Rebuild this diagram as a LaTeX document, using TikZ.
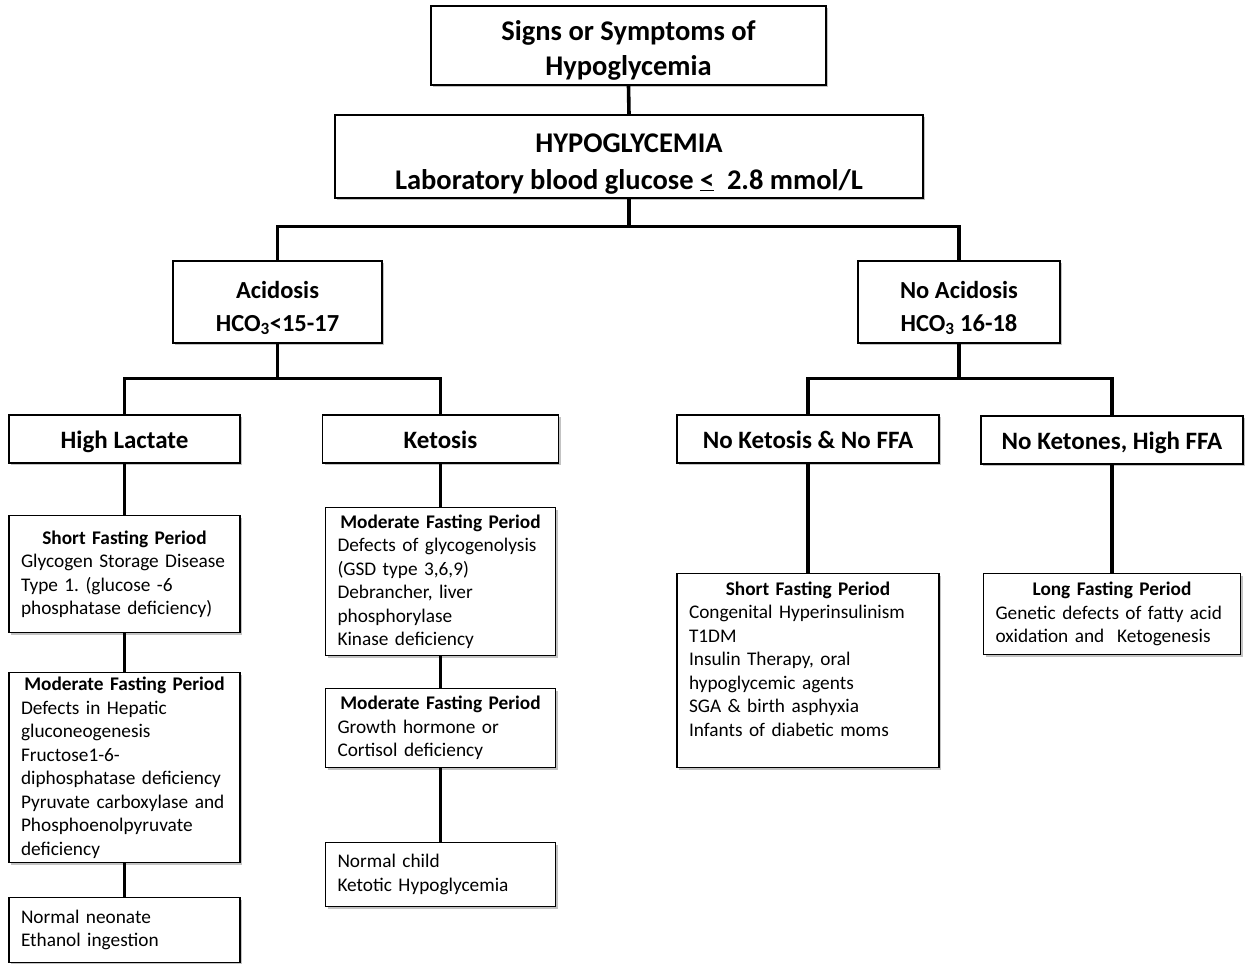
\documentclass[tikz,border=0pt]{standalone}
\usepackage{fontspec}
\setmainfont{Carlito}
\usetikzlibrary{positioning, shadows}
\usepackage{xcolor}
\definecolor{chartLine}{HTML}{000000}
\definecolor{chartShadow}{HTML}{7A7A7A}
\newcommand{\boxhead}[1]{\makebox[\hsize]{\bfseries #1}\\}
\frenchspacing
\tikzset{
    boxbase/.style={rectangle, draw=chartLine, fill=white, line width=1.3pt, drop shadow={shadow xshift=2pt, shadow yshift=-2pt, fill=chartShadow, opacity=0.45}},
    topbox/.style={boxbase, align=center, minimum width=395pt, minimum height=79pt, text height=62pt, text depth=3pt, font=\fontsize{28.5}{35}\selectfont\bfseries},
    hypobox/.style={boxbase, align=center, minimum width=588pt, minimum height=83pt, text height=68pt, text depth=3pt, font=\fontsize{28.5}{37}\selectfont\bfseries},
    branchbox/.style={boxbase, align=center, minimum height=82pt, text height=61pt, text depth=3pt, font=\fontsize{24.5}{33}\selectfont\bfseries},
    titlebox/.style={boxbase, align=center, minimum height=48pt, text height=20pt, text depth=2pt, font=\fontsize{25}{30}\selectfont\bfseries},
    detailbox/.style={boxbase, anchor=north, align=left, inner xsep=12pt, inner ysep=3pt, font=\fontsize{19.3}{23.5}\selectfont},
    link/.style={draw=chartLine, line width=3.6pt},
}
\begin{document}
\begin{tikzpicture}[x=1pt, y=-1pt]
    \useasboundingbox (0,0) rectangle (1251,964);

    % top of the tree
    \node[topbox] (signs) at (628.5,45.5) {Signs or Symptoms of\\Hypoglycemia};
    \node[hypobox] (hypo) at (629,156.5) {HYPOGLYCEMIA\\Laboratory blood glucose \underline{<}~ 2.8 mmol/L};

    % acidosis or not
    \node[branchbox, minimum width=209pt] (acid) at (277.5,302) {Acidosis\\HCO\textsubscript{3}<15-17};
    \node[branchbox, minimum width=202pt] (noacid) at (959,302) {No Acidosis\\HCO\textsubscript{3} 16-18};

    \node[titlebox, minimum width=231pt] (lact) at (124.5,439) {High Lactate};
    \node[titlebox, minimum width=236pt] (ketosis) at (440.5,439) {Ketosis};
    \node[titlebox, minimum width=262pt] (noket) at (808,439) {No Ketosis \& No FFA};
    \node[titlebox, minimum width=262pt] (noketones) at (1112,440) {No Ketones, High FFA};

    % high lactate column
    \node[detailbox, text width=207pt, minimum height=117pt] (lactshort) at (124.5,515) {\boxhead{Short Fasting Period}Glycogen Storage Disease\\Type 1. (glucose -6\\phosphatase deficiency)};
    \node[detailbox, text width=207pt, minimum height=190pt] (lactmod) at (124.5,672) {\boxhead{Moderate Fasting Period}Defects in Hepatic\\gluconeogenesis\\Fructose1-6-\\diphosphatase deficiency\\Pyruvate carboxylase and\\Phosphoenolpyruvate\\deficiency};
    \node[detailbox, text width=207pt, minimum height=65pt] (lactnorm) at (124.5,897) {Normal neonate\\Ethanol ingestion};

    % ketosis column
    \node[detailbox, text width=206pt, minimum height=148pt] (ketmod) at (440.5,507) {\boxhead{Moderate Fasting Period}Defects of glycogenolysis\\(GSD type 3,6,9)\\Debrancher, liver\\phosphorylase\\Kinase deficiency};
    \node[detailbox, text width=206pt, minimum height=79pt] (ketgrowth) at (440.5,688) {\boxhead{Moderate Fasting Period}Growth hormone or\\Cortisol deficiency};
    \node[detailbox, text width=206pt, minimum height=64pt] (ketnorm) at (440.5,842) {Normal child\\Ketotic Hypoglycemia};

    % no acidosis columns
    \node[detailbox, text width=238pt, minimum height=194pt] (noketshort) at (808,573) {\boxhead{Short Fasting Period}Congenital Hyperinsulinism\\T1DM\\Insulin Therapy, oral\\hypoglycemic agents\\SGA \& birth asphyxia\\Infants of diabetic moms\\\mbox{}};
    \node[detailbox, text width=233pt, minimum height=81pt] (longfast) at (1112,573) {\boxhead{Long Fasting Period}Genetic defects of fatty acid\\oxidation and~ Ketogenesis};

    % connectors
    \draw[link] (signs.south) -- (hypo.north);
    \draw[link] (hypo.south) -- ++(0,28) coordinate (hsplit);
    \draw[link] (acid.north) |- (hsplit) -| (noacid.north);
    \draw[link] (acid.south) -- ++(0,35) coordinate (asplit);
    \draw[link] (lact.north) |- (asplit) -| (ketosis.north);
    \draw[link] (noacid.south) -- ++(0,35) coordinate (nsplit);
    \draw[link] (noket.north) |- (nsplit) -| (noketones.north);
    \draw[link] (lact.south) -- (lactshort.north);
    \draw[link] (lactshort.south) -- (lactmod.north);
    \draw[link] (lactmod.south) -- (lactnorm.north);
    \draw[link] (ketosis.south) -- (ketmod.north);
    \draw[link] (ketmod.south) -- (ketgrowth.north);
    \draw[link] (ketgrowth.south) -- (ketnorm.north);
    \draw[link] (noket.south) -- (noketshort.north);
    \draw[link] (noketones.south) -- (longfast.north);
\end{tikzpicture}
\end{document}
